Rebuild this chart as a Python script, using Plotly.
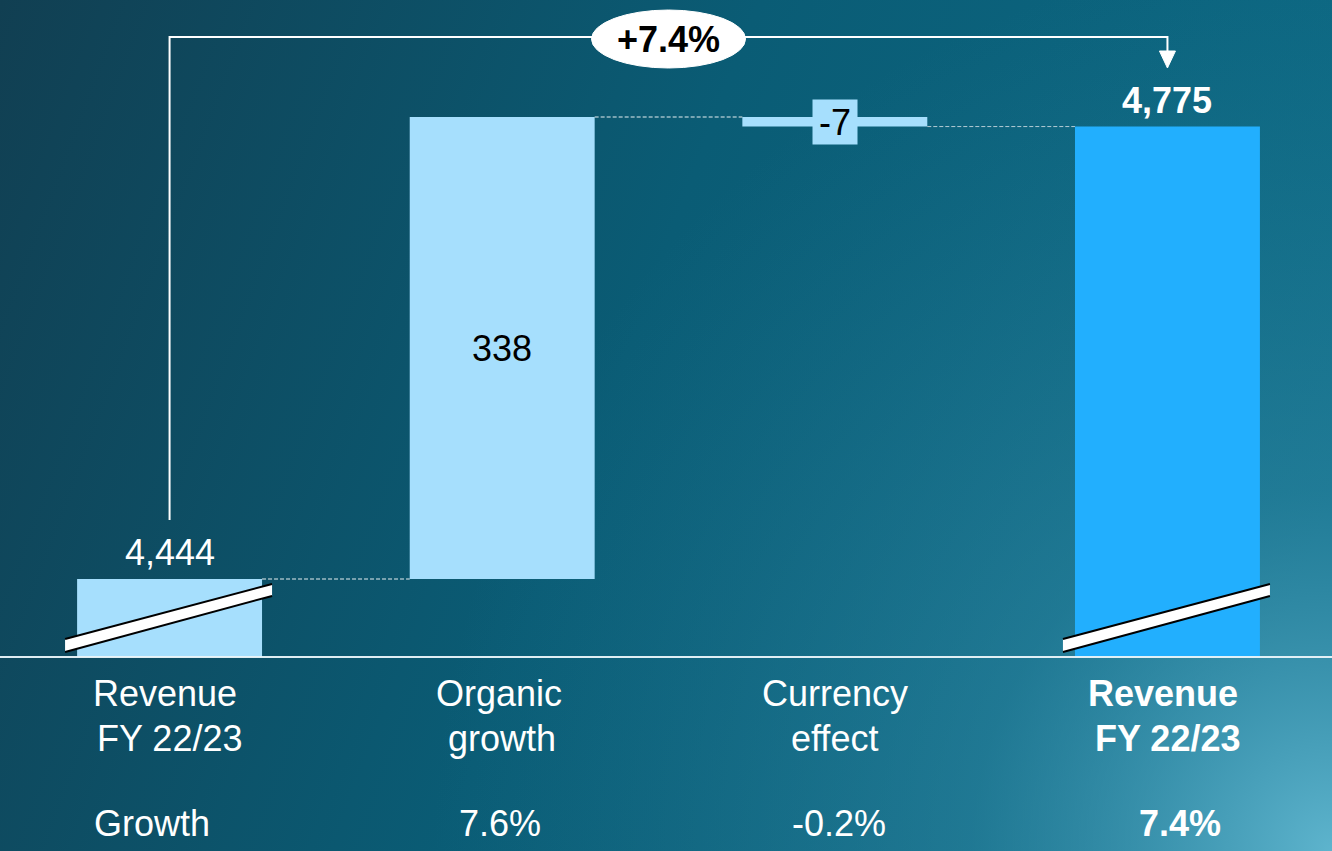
import base64
import plotly.graph_objects as go

# ---- data -------------------------------------------------------------
label_top = ["Revenue", "Organic", "Currency", "Revenue"]
label_bottom = ["FY 22/23", "growth", "effect", "FY 22/23"]
growth_labels = ["Growth", "7.6%", "-0.2%", "7.4%"]
start_value = 4444
organic_growth = 338
currency_effect = -7
end_value = 4775
value_labels = ["4,444", "338", "-7", "4,775"]
total_growth_label = "+7.4%"

# value where the broken axis starts (bars 1 and 4 are cut)
AXIS_BREAK = 4387

# ---- geometry / styles -----------------------------------------------
W, H = 1332, 851
Y_RANGE = [4245.0, 4867.6]
X_RANGE = [-0.5098, 3.4947]
UNITS_PER_PX = (Y_RANGE[1] - Y_RANGE[0]) / H
X_PER_PX = (X_RANGE[1] - X_RANGE[0]) / W
BAR_W = 0.556
LIGHT = "#a6dffd"
STRONG = "#22affe"
FONT = "Liberation Sans, Arial, sans-serif"
FS = 36


def row_y(px):
    """Data y for a pixel row counted from the top."""
    return Y_RANGE[1] - px * UNITS_PER_PX


def up(v, px):
    return v + px * UNITS_PER_PX


xs = [0, 1, 2, 3]
bases = [AXIS_BREAK, start_value, start_value + organic_growth, AXIS_BREAK]
heights = [start_value - AXIS_BREAK, organic_growth, currency_effect, end_value - AXIS_BREAK]
colors = [LIGHT, LIGHT, LIGHT, STRONG]

fig = go.Figure()
fig.add_trace(go.Bar(
    x=xs, y=heights, base=bases, width=BAR_W,
    marker=dict(color=colors, line=dict(width=0)),
    hoverinfo="skip",
))

shapes = []

# baseline
shapes.append(dict(type="line", xref="paper", yref="y", x0=0, x1=1,
                   y0=AXIS_BREAK, y1=AXIS_BREAK,
                   line=dict(color="rgba(235,245,250,0.95)", width=2)))

# dashed connectors between bars
levels = [start_value, start_value + organic_growth, end_value]
conn_colors = ["rgba(255,255,255,0.9)", "rgba(255,255,255,0.9)", "rgba(200,215,222,0.9)"]
for i, lvl in enumerate(levels):
    shapes.append(dict(type="line", xref="x", yref="y",
                       x0=i + BAR_W / 2, x1=i + 1 - BAR_W / 2, y0=lvl, y1=lvl,
                       line=dict(color=conn_colors[i], width=1, dash="4px,2px")))

# axis-break markers on the cut bars
for cx in (0, 3):
    xl = cx - 104.5 * X_PER_PX
    xr = cx + 102.5 * X_PER_PX
    p = [(xl, up(AXIS_BREAK, 5)), (xl, up(AXIS_BREAK, 18)),
         (xr, up(AXIS_BREAK, 73)), (xr, up(AXIS_BREAK, 61))]
    path = "M " + " L ".join(f"{a},{b}" for a, b in p) + " Z"
    shapes.append(dict(type="path", xref="x", yref="y", path=path,
                       fillcolor="white", line=dict(width=0)))
    for (a0, b0), (a1, b1) in ((p[1], p[2]), (p[0], p[3])):
        shapes.append(dict(type="line", xref="x", yref="y",
                           x0=a0, y0=b0, x1=a1, y1=b1,
                           line=dict(color="black", width=2)))

# bracket with arrow from first to last bar
top_y = row_y(37)
bottom_left = up(start_value, 59)
arrow_base = row_y(51)
arrow_tip = row_y(68)
bracket = f"M 0,{bottom_left} L 0,{top_y} L 3,{top_y} L 3,{arrow_base}"
shapes.append(dict(type="path", xref="x", yref="y", path=bracket,
                   line=dict(color="white", width=2)))
hw = 8 * X_PER_PX
shapes.append(dict(type="path", xref="x", yref="y",
                   path=f"M {3 - hw},{arrow_base} L {3 + hw},{arrow_base} L 3,{arrow_tip} Z",
                   fillcolor="white", line=dict(color="white", width=1)))
# ellipse holding the total change
ew = 77 * X_PER_PX
shapes.append(dict(type="circle", xref="x", yref="y",
                   x0=1.5 - ew, x1=1.5 + ew, y0=row_y(68), y1=row_y(10),
                   fillcolor="white", line=dict(color="white", width=1)))

annotations = []


def text(x, y, s, color="white", bold=False, xshift=0, yshift=0, **kw):
    annotations.append(dict(
        x=x, y=y, xref="x", yref="y", text=f"<b>{s}</b>" if bold else s,
        showarrow=False, xanchor="center", yanchor="middle",
        xshift=xshift, yshift=yshift,
        font=dict(family=FONT, size=FS, color=color), **kw))


# value labels
text(0, start_value, value_labels[0], yshift=27)
text(1, start_value + organic_growth / 2, value_labels[1], color="black")
text(2, start_value + organic_growth + currency_effect / 2, value_labels[2],
     color="black", bgcolor=LIGHT, width=44, height=44, borderpad=0)
text(3, end_value, value_labels[3], bold=True, yshift=26)
text(1.5, row_y(39), total_growth_label, color="black", bold=True)

# category labels and growth row
top_shift = [-5, -3.5, 0, -4.5]
bot_shift = [0, 0, 0, 0]
growth_shift = [-18, -2.5, 4.5, 13]
for i in xs:
    bold = i == 3
    text(i, row_y(693), label_top[i], bold=bold, xshift=top_shift[i])
    text(i, row_y(738), label_bottom[i], bold=bold, xshift=bot_shift[i])
    text(i, row_y(823), growth_labels[i], bold=bold, xshift=growth_shift[i])

# gradient backdrop
svg = f"""<svg xmlns='http://www.w3.org/2000/svg' width='{W}' height='{H}'>
<defs>
<linearGradient id='g' x1='0' y1='0' x2='{W}' y2='500' gradientUnits='userSpaceOnUse'>
<stop offset='0' stop-color='#113f52'/>
<stop offset='0.5' stop-color='#0a5c75'/>
<stop offset='1' stop-color='#0d6b86'/>
</linearGradient>
<radialGradient id='r' cx='{W}' cy='{H}' r='900' gradientUnits='userSpaceOnUse'>
<stop offset='0' stop-color='#62b8d1' stop-opacity='0.95'/>
<stop offset='0.4' stop-color='#3d94b0' stop-opacity='0.4'/>
<stop offset='1' stop-color='#2a7f9c' stop-opacity='0'/>
</radialGradient>
</defs>
<rect width='{W}' height='{H}' fill='url(#g)'/>
<rect width='{W}' height='{H}' fill='url(#r)'/>
</svg>"""
bg = "data:image/svg+xml;base64," + base64.b64encode(svg.encode()).decode()

fig.update_layout(
    width=W, height=H,
    margin=dict(l=0, r=0, t=0, b=0),
    paper_bgcolor="#0b5a72", plot_bgcolor="rgba(0,0,0,0)",
    showlegend=False,
    xaxis=dict(range=X_RANGE, visible=False, fixedrange=True),
    yaxis=dict(range=Y_RANGE, visible=False, fixedrange=True),
    shapes=shapes, annotations=annotations,
    images=[dict(source=bg, xref="paper", yref="paper", x=0, y=1,
                 sizex=1, sizey=1, sizing="stretch", layer="below",
                 xanchor="left", yanchor="top")],
)

fig.write_html("out.html", config={"displayModeBar": False})
